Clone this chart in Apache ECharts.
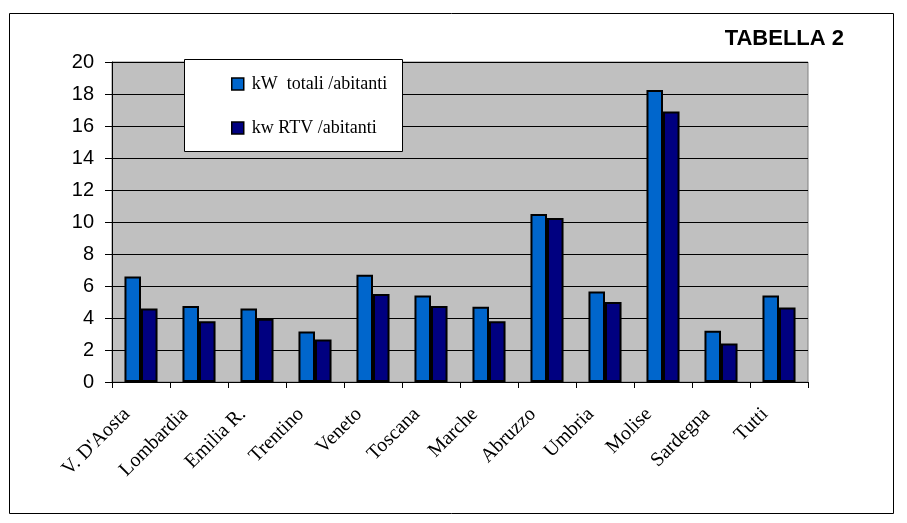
<!DOCTYPE html>
<html>
<head>
<meta charset="utf-8">
<script src="https://cdn.jsdelivr.net/npm/echarts@6/dist/echarts.min.js"></script>
<style>
html,body{margin:0;padding:0;background:#fff;}
#chart{width:907px;height:523px;}
</style>
</head>
<body>
<div id="chart"></div>
<script>
var categories = ["V. D'Aosta", "Lombardia", "Emilia R.", "Trentino", "Veneto", "Toscana", "Marche", "Abruzzo", "Umbria", "Molise", "Sardegna", "Tutti"];
var kwTotali = [6.6, 4.75, 4.6, 3.15, 6.7, 5.4, 4.7, 10.5, 5.65, 18.25, 3.2, 5.4];
var kwRTV = [4.6, 3.8, 3.95, 2.65, 5.5, 4.75, 3.8, 10.25, 5.0, 16.9, 2.4, 4.65];
var seriesNames = ["kW  totali /abitanti", "kw RTV /abitanti"];
var yTicks = { min: 0, max: 20, interval: 2 };

var chart = echarts.init(document.getElementById('chart'), null, { renderer: 'canvas' });
var serif = "'Liberation Serif', 'Times New Roman', serif";
var sans = "'Liberation Sans', Arial, sans-serif";
var option = {
  animation: false,
  backgroundColor: '#ffffff',
  title: {
    text: 'TABELLA 2',
    right: 63,
    top: 28,
    padding: 0,
    textStyle: { fontFamily: sans, fontWeight: 'bold', fontSize: 22, color: '#000' }
  },
  graphic: [
    { type: 'rect', shape: { x: 9.5, y: 13.5, width: 884, height: 500 }, style: { fill: 'none', stroke: '#000', lineWidth: 1 }, z: 0, silent: true },
    { type: 'rect', shape: { x: 184.5, y: 59.5, width: 218, height: 92 }, style: { fill: '#fff', stroke: '#000', lineWidth: 1 }, z: 10, silent: true }
  ],
  legend: {
    orient: 'vertical',
    left: 231,
    top: 75,
    padding: 0,
    itemWidth: 12,
    itemHeight: 12,
    itemGap: 26,
    z: 20,
    icon: 'rect',
    itemStyle: { borderColor: '#000', borderWidth: 1.5 },
    textStyle: { fontFamily: serif, fontSize: 18, color: '#000', padding: [0, 0, 0, 3] },
    data: seriesNames
  },
  grid: {
    left: 112, right: 99, top: 62, bottom: 141,
    show: true, backgroundColor: '#c0c0c0', borderColor: '#808080', borderWidth: 1
  },
  xAxis: {
    type: 'category',
    data: categories,
    boundaryGap: true,
    axisLine: { show: true, lineStyle: { color: '#000', width: 1 } },
    axisTick: { show: true, length: 6, lineStyle: { color: '#000' } },
    axisLabel: {
      rotate: 45, interval: 0, margin: 15,
      padding: [0, 20, 0, 0],
      fontFamily: serif, fontSize: 20, color: '#000'
    },
    splitLine: { show: false }
  },
  yAxis: {
    type: 'value',
    min: yTicks.min, max: yTicks.max, interval: yTicks.interval,
    axisLine: { show: true, lineStyle: { color: '#000', width: 1 } },
    axisTick: { show: true, length: 7, lineStyle: { color: '#000' } },
    axisLabel: { margin: 18, fontFamily: sans, fontSize: 20, color: '#000' },
    splitLine: { show: true, lineStyle: { color: '#000', width: 1 } }
  },
  series: [
    {
      name: seriesNames[0], type: 'bar', data: kwTotali,
      barGap: '0%', barCategoryGap: '43%',
      itemStyle: { color: '#0066cc', borderColor: '#000', borderWidth: 2 }
    },
    {
      name: seriesNames[1], type: 'bar', data: kwRTV,
      barGap: '0%', barCategoryGap: '43%',
      itemStyle: { color: '#000080', borderColor: '#000', borderWidth: 2 }
    }
  ]
};
chart.setOption(option);
</script>
</body>
</html>
